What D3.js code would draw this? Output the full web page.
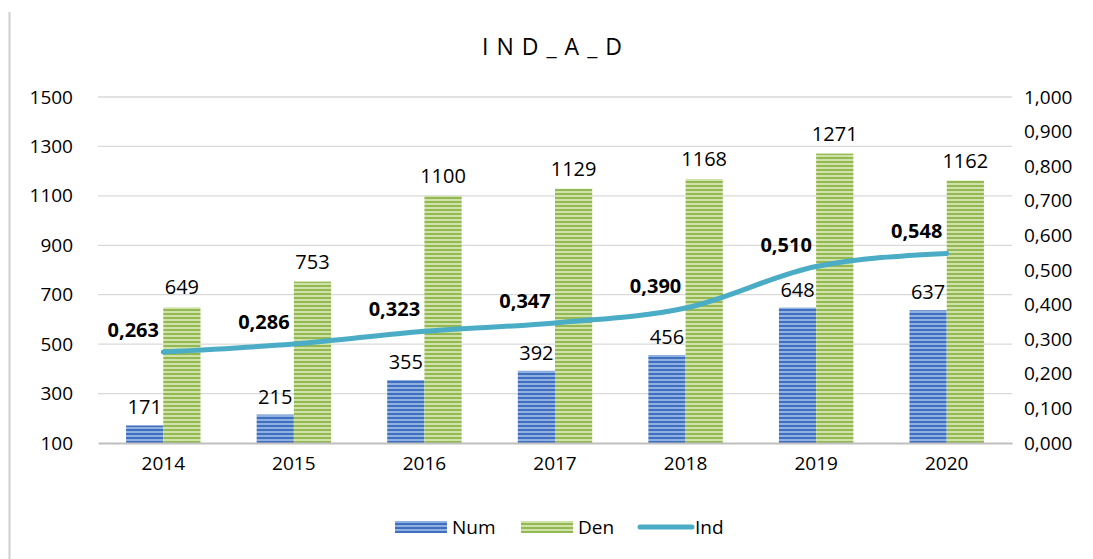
<!DOCTYPE html>
<html>
<head>
<meta charset="utf-8">
<script src="https://cdn.jsdelivr.net/npm/d3@7"></script>
<style>
  body { margin: 0; background: #fff; overflow: hidden; }
  svg { display: block; }
  svg text { font-family: "Open Sans", "Noto Sans", sans-serif; fill: #000; }
</style>
</head>
<body>
<svg id="chart" width="1093" height="559"></svg>
<script>
const years = ['2014', '2015', '2016', '2017', '2018', '2019', '2020'];
const numValues = [171, 215, 355, 392, 456, 648, 637];
const denValues = [649, 753, 1100, 1129, 1168, 1271, 1162];
const indValues = [0.263, 0.286, 0.323, 0.347, 0.390, 0.510, 0.548];
const leftTicks = [100, 300, 500, 700, 900, 1100, 1300, 1500];
const rightTicks = [0, 0.1, 0.2, 0.3, 0.4, 0.5, 0.6, 0.7, 0.8, 0.9, 1.0];
const seriesNames = ['Num', 'Den', 'Ind'];

const svg = d3.select('#chart');
const margin = {top: 97, right: 81, bottom: 116, left: 98};
const width = +svg.attr('width');
const height = +svg.attr('height');
const innerWidth = width - margin.left - margin.right;
const innerHeight = height - margin.top - margin.bottom;

const comma = v => d3.format('.3f')(v).replace('.', ',');
const fontFam = '"Open Sans", "Noto Sans", sans-serif';

// stripe patterns
const defs = svg.append('defs');
function stripes(id, dark, light) {
  const p = defs.append('pattern').attr('id', id)
    .attr('patternUnits', 'userSpaceOnUse')
    .attr('width', 4).attr('height', 4);
  p.append('rect').attr('width', 4).attr('height', 4).attr('fill', light);
  p.append('rect').attr('width', 4).attr('height', 2).attr('fill', dark);
}
stripes('numPat', '#3f6fbf', '#8fb0e0');
stripes('denPat', '#93b854', '#cfe2a8');

// left frame line
svg.append('line')
  .attr('x1', 9.5).attr('x2', 9.5).attr('y1', 12).attr('y2', height)
  .attr('stroke', '#d0d0d0').attr('stroke-width', 2);

svg.append('text')
  .attr('x', 556).attr('y', 55)
  .attr('text-anchor', 'middle')
  .attr('font-size', 23)
  .attr('letter-spacing', 8)
  .text('IND_A_D');

const g = svg.append('g')
  .attr('transform', `translate(${margin.left}, ${margin.top})`);

const xScale = d3.scaleBand().domain(years).range([0, innerWidth]);
const yScale = d3.scaleLinear().domain([100, 1500]).range([innerHeight, 0]);
const y2Scale = d3.scaleLinear().domain([0, 1]).range([innerHeight, 0]);
const barW = xScale.bandwidth() * 0.285;

// grid
g.append('g').selectAll('line').data(leftTicks.slice(1)).enter().append('line')
  .attr('x1', 0).attr('x2', innerWidth)
  .attr('y1', d => yScale(d)).attr('y2', d => yScale(d))
  .attr('stroke', '#d9d9d9').attr('stroke-width', 1.3);

const yAxisG = g.append('g')
  .call(d3.axisLeft(yScale).tickValues(leftTicks).tickFormat(d3.format('d')).tickSize(0).tickPadding(25));
yAxisG.select('.domain').remove();
yAxisG.selectAll('text').attr('font-size', 19).style('font-family', fontFam);

const y2AxisG = g.append('g').attr('transform', `translate(${innerWidth}, 0)`)
  .call(d3.axisRight(y2Scale).tickValues(rightTicks).tickFormat(comma).tickSize(0).tickPadding(12));
y2AxisG.select('.domain').remove();
y2AxisG.selectAll('text').attr('font-size', 19).style('font-family', fontFam);

const center = d => xScale(d) + xScale.bandwidth() / 2;

// bars
g.selectAll('.num').data(numValues).enter().append('rect')
  .attr('class', 'num')
  .attr('x', (d, i) => center(years[i]) - barW)
  .attr('y', d => yScale(d))
  .attr('width', barW)
  .attr('height', d => innerHeight - yScale(d))
  .attr('fill', 'url(#numPat)');

g.selectAll('.den').data(denValues).enter().append('rect')
  .attr('class', 'den')
  .attr('x', (d, i) => center(years[i]))
  .attr('y', d => yScale(d))
  .attr('width', barW)
  .attr('height', d => innerHeight - yScale(d))
  .attr('fill', 'url(#denPat)');

// x axis
const xAxisG = g.append('g').attr('transform', `translate(0, ${innerHeight})`)
  .call(d3.axisBottom(xScale).tickSize(0).tickPadding(14));
xAxisG.select('.domain').attr('stroke', '#bfbfbf').attr('stroke-width', 2);
xAxisG.selectAll('text').attr('font-size', 19).style('font-family', fontFam);

// bar labels
g.selectAll('.numLbl').data(numValues).enter().append('text')
  .attr('x', (d, i) => center(years[i]) - barW / 2)
  .attr('y', d => yScale(d) - 11)
  .attr('text-anchor', 'middle').attr('font-size', 20)
  .text(d => d);

g.selectAll('.denLbl').data(denValues).enter().append('text')
  .attr('x', (d, i) => center(years[i]) + barW / 2)
  .attr('y', d => yScale(d) - 13)
  .attr('text-anchor', 'middle').attr('font-size', 20)
  .text(d => d);

// line
const line = d3.line()
  .x((d, i) => center(years[i]))
  .y(d => y2Scale(d))
  .curve(d3.curveMonotoneX);

g.append('path').datum(indValues)
  .attr('d', line)
  .attr('fill', 'none')
  .attr('stroke', '#4bacc6')
  .attr('stroke-width', 5)
  .attr('stroke-linecap', 'round');

g.selectAll('.indLbl').data(indValues).enter().append('text')
  .attr('x', (d, i) => center(years[i]) - 30)
  .attr('y', d => y2Scale(d) - 15)
  .attr('text-anchor', 'middle').attr('font-size', 20).attr('font-weight', 'bold')
  .text(d => comma(d));

// legend
const legend = svg.append('g').attr('transform', 'translate(395, 527)');
const lx = [0, 126, 243];
seriesNames.forEach((name, i) => {
  const lg = legend.append('g').attr('transform', `translate(${lx[i]}, 0)`);
  if (i < 2) {
    lg.append('rect').attr('x', 0).attr('y', -6).attr('width', 52).attr('height', 12)
      .attr('fill', i === 0 ? 'url(#numPat)' : 'url(#denPat)');
  } else {
    lg.append('line').attr('x1', 2).attr('x2', 54).attr('y1', 0).attr('y2', 0)
      .attr('stroke', '#4bacc6').attr('stroke-width', 5).attr('stroke-linecap', 'round');
  }
  lg.append('text').attr('x', 57).attr('y', 7)
    .attr('font-size', 19).text(name);
});
</script>
</body>
</html>
